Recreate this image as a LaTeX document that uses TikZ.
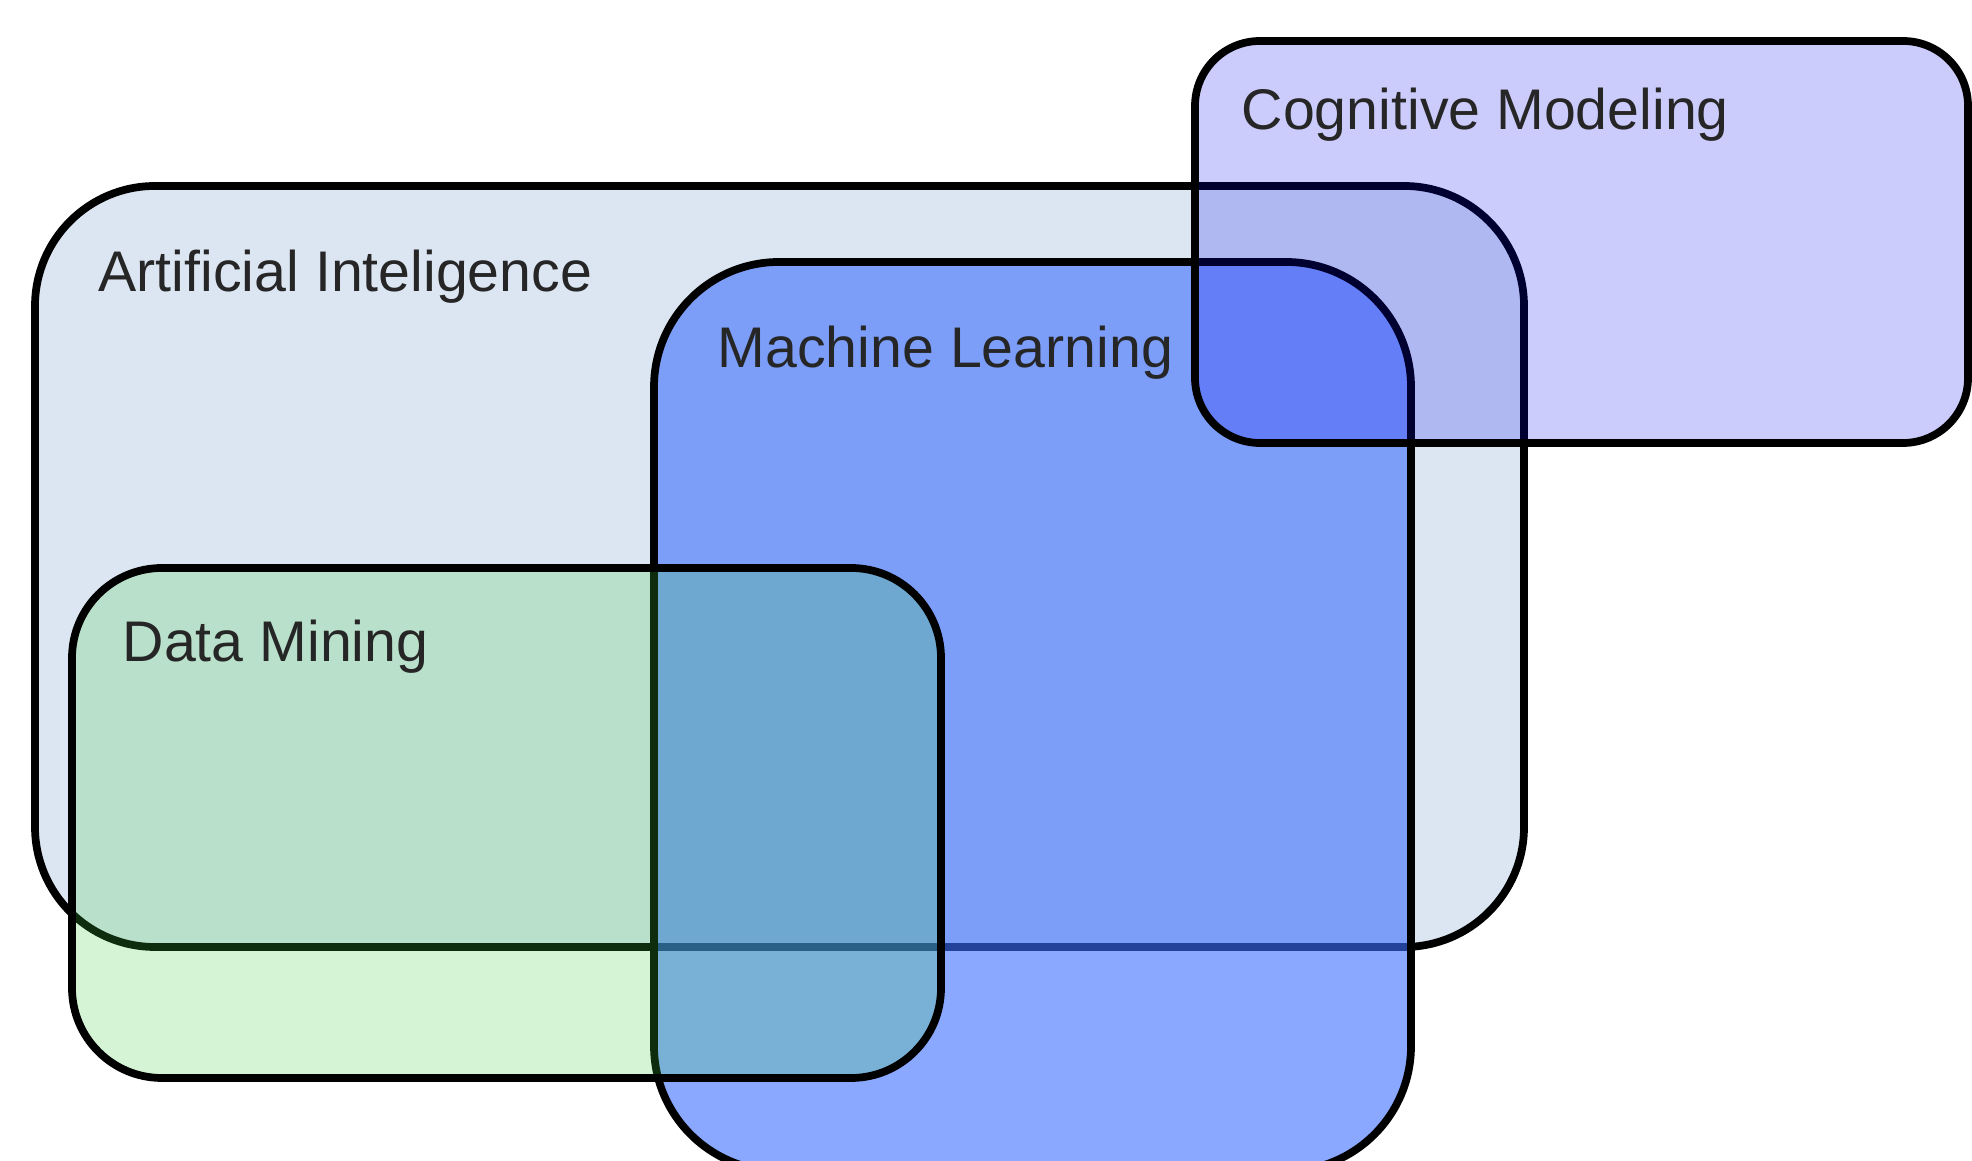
\documentclass[tikz,border=0pt]{standalone}
\usepackage{fontspec}
\setmainfont{Liberation Sans}
\usepackage{xcolor}
\usepackage{tikz}
\usetikzlibrary{positioning}

\definecolor{aifill}{HTML}{DCE6F2}
\definecolor{mlfill}{RGB}{60,110,255}
\definecolor{dmfill}{RGB}{64,205,68}
\definecolor{cmfill}{RGB}{0,0,240}

\tikzset{
    setbox/.style={line width=2.2pt, draw=black},
    setlabel/.style={anchor=base west, inner sep=0pt, text=black!85, font=\fontsize{16.3}{19}\selectfont}
}

\begin{document}
\begin{tikzpicture}
                \useasboundingbox (0,0) rectangle (19.72,11.61);
                \fill[white] (0,0) rectangle (19.72,11.61);

                % Artificial Inteligence
                \draw[
                    setbox,
                    fill=aifill,
                    rounded corners=1.2cm
                ] (0.35,9.75) rectangle (15.24,2.14);
                \node[setlabel] (ailabel) at (0.98,8.69) {Artificial Inteligence};

                % Machine Learning
                \draw[
                    setbox,
                    fill=mlfill,
                    fill opacity=0.6,
                    rounded corners=1.25cm
                ] (6.54,8.99) rectangle (14.11,-0.10);
                \node[setlabel] (mllabel) at (7.17,7.93) {Machine Learning};

                % Data Mining
                \draw[
                    setbox,
                    fill=dmfill,
                    fill opacity=0.22,
                    rounded corners=0.9cm
                ] (0.72,5.93) rectangle (9.41,0.83);
                \node[setlabel] (dmlabel) at (1.22,4.99) {Data Mining};

                % Cognitive Modeling
                \draw[
                    setbox,
                    fill=cmfill,
                    fill opacity=0.2,
                    rounded corners=0.65cm
                ] (11.95,11.20) rectangle (19.68,7.18);
                \node[setlabel] (cmlabel) at (12.41,10.31) {Cognitive Modeling};

            \end{tikzpicture}
\end{document}
